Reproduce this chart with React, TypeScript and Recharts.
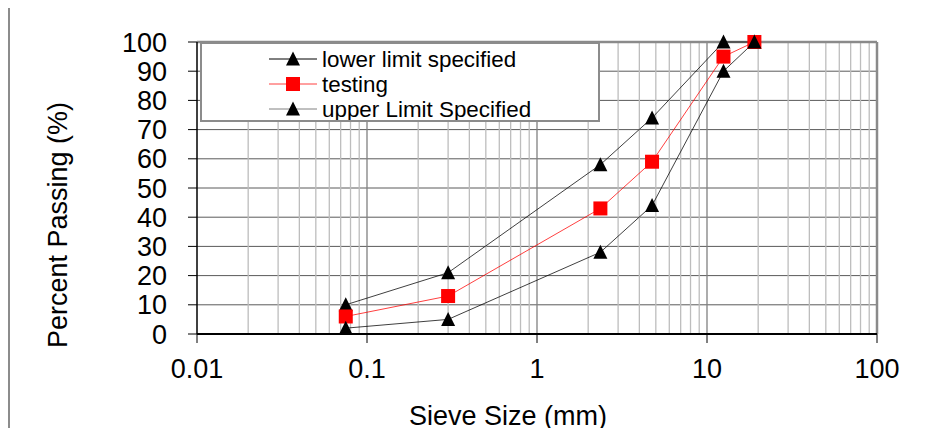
import React from 'react';
import { LineChart, Line, XAxis, YAxis, CartesianGrid, ReferenceLine, Legend, Label } from 'recharts';

const sieveSizes = [0.075, 0.3, 2.36, 4.75, 12.5, 19];
const lowerLimitSpecified = [10, 21, 58, 74, 100, 100];
const testingValues = [6, 13, 43, 59, 95, 100];
const upperLimitSpecified = [2, 5, 28, 44, 90, 100];

const xTicks = [0.01, 0.1, 1, 10, 100];
const yTicks = [0, 10, 20, 30, 40, 50, 60, 70, 80, 90, 100];
const majorDecades = [0.1, 1, 10];
const decades = [0.01, 0.1, 1, 10];
const minorMultipliers = [2, 3, 4, 5, 6, 7, 8, 9];

const legendLabels = ['lower limit specified', 'testing', 'upper Limit Specified'];

const rows = sieveSizes.map((s, i) => ({
  size: s,
  lower: lowerLimitSpecified[i],
  testing: testingValues[i],
  upper: upperLimitSpecified[i],
}));

const minorLines: number[] = [];
decades.forEach((d) => minorMultipliers.forEach((m) => minorLines.push(+(d * m).toPrecision(3))));

const FONT = '"Liberation Sans", Arial, sans-serif';

const triPath = (cx: number, cy: number) =>
  `M${cx},${cy - 7.5} L${cx + 7},${cy + 6.5} L${cx - 7},${cy + 6.5} Z`;

const TriangleDot = (props: any) => {
  const { cx, cy, index } = props;
  if (cx == null || cy == null) return <g key={`t-${index}`} />;
  return <path key={`t-${index}-${cx}`} d={triPath(cx, cy)} fill="#000" />;
};

const SquareDot = (props: any) => {
  const { cx, cy, index } = props;
  if (cx == null || cy == null) return <g key={`s-${index}`} />;
  return <rect key={`s-${index}-${cx}`} x={cx - 7} y={cy - 7} width={14} height={14} fill="#ff0000" />;
};

const legendStyles = [
  { stroke: '#000', width: 1, marker: 'tri' },
  { stroke: '#ff0000', width: 0.75, marker: 'sq' },
  { stroke: '#555', width: 0.75, marker: 'tri' },
];

const LegendBox = () => (
  <div style={{ width: 396, height: 76, background: '#fff', border: '2px solid #8c8c8c' }}>
    <svg width={396} height={76} style={{ display: 'block' }}>
      {legendLabels.map((label, i) => {
        const cy = 15 + i * 25;
        const st = legendStyles[i];
        return (
          <g key={label}>
            <line x1={67} x2={115} y1={cy} y2={cy} stroke={st.stroke} strokeWidth={st.width} />
            {st.marker === 'tri' ? (
              <path d={triPath(91, cy)} fill="#000" />
            ) : (
              <rect x={84} y={cy - 7} width={14} height={14} fill="#ff0000" />
            )}
            <text x={120} y={cy} dominantBaseline="central" fontSize={22.4} fontFamily={FONT} fill="#000">
              {label}
            </text>
          </g>
        );
      })}
    </svg>
  </div>
);

export default function App() {
  return (
    <div style={{ position: 'relative', width: 948, height: 436, margin: -8, overflow: 'hidden', background: '#fff' }}>
      <div
        style={{
          position: 'absolute',
          left: 8,
          top: 4,
          width: 960,
          height: 460,
          borderLeft: '2px solid #8c8c8c',
          borderTop: '2px solid #8c8c8c',
        }}
      />
      <div style={{ position: 'absolute', left: 0, top: 0 }}>
        <LineChart width={948} height={436} data={rows} margin={{ top: 42, right: 71, bottom: 0, left: 0 }}>
          <CartesianGrid vertical={false} stroke="#5a5a5a" strokeWidth={1} />
          {minorLines.map((v) => (
            <ReferenceLine key={`m-${v}`} x={v} stroke="#bdbdbd" strokeWidth={1.3} />
          ))}
          {majorDecades.map((v) => (
            <ReferenceLine key={`M-${v}`} x={v} stroke="#808080" strokeWidth={1.3} />
          ))}
          <ReferenceLine y={100} stroke="#8a8a8a" strokeWidth={2.5} />
          <ReferenceLine x={100} stroke="#8a8a8a" strokeWidth={2.5} />
          <XAxis
            dataKey="size"
            type="number"
            scale="log"
            domain={[0.01, 100]}
            ticks={xTicks}
            allowDataOverflow
            height={102}
            interval={0}
            tickSize={9}
            tickMargin={16}
            axisLine={{ stroke: '#000', strokeWidth: 2 }}
            tickLine={{ stroke: '#000', strokeWidth: 1 }}
            tick={{ fontSize: 27, fill: '#000', fontFamily: FONT }}
            tickFormatter={(v: number) => String(v)}
          >
            <Label
              content={() => (
                <text x={508} y={425} textAnchor="middle" fontSize={27} fontFamily={FONT} fill="#000">
                  Sieve Size (mm)
                </text>
              )}
            />
          </XAxis>
          <YAxis
            type="number"
            domain={[0, 100]}
            ticks={yTicks}
            interval={0}
            width={197}
            tickSize={9}
            tickMargin={21}
            axisLine={{ stroke: '#000', strokeWidth: 1.5 }}
            tickLine={{ stroke: '#000', strokeWidth: 1 }}
            tick={{ fontSize: 27, fill: '#000', fontFamily: FONT }}
          >
            <Label
              content={() => (
                <text
                  x={67}
                  y={225}
                  transform="rotate(-90, 67, 225)"
                  textAnchor="middle"
                  fontSize={27}
                  fontFamily={FONT}
                  fill="#000"
                >
                  Percent Passing (%)
                </text>
              )}
            />
          </YAxis>
          <Legend
            layout="horizontal"
            verticalAlign="middle"
            align="center"
            content={() => <LegendBox />}
            wrapperStyle={{ position: 'absolute', left: 200, top: 42, width: 400, height: 80 }}
          />
          <Line
            dataKey="lower"
            name={legendLabels[0]}
            stroke="#000"
            strokeWidth={0.75}
            dot={TriangleDot}
            activeDot={false}
            isAnimationActive={false}
          />
          <Line
            dataKey="testing"
            name={legendLabels[1]}
            stroke="#ff0000"
            strokeWidth={0.75}
            dot={SquareDot}
            activeDot={false}
            isAnimationActive={false}
          />
          <Line
            dataKey="upper"
            name={legendLabels[2]}
            stroke="#000"
            strokeWidth={0.75}
            dot={TriangleDot}
            activeDot={false}
            isAnimationActive={false}
          />
        </LineChart>
      </div>
    </div>
  );
}
